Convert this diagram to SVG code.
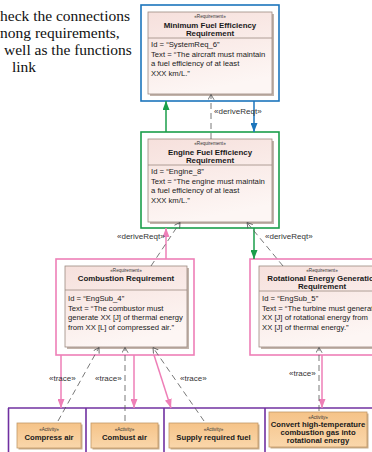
<svg xmlns="http://www.w3.org/2000/svg" width="372" height="452" viewBox="0 0 372 452">
  <style>
    .sans { font-family: "Liberation Sans", Arial, Helvetica, sans-serif; }
    .para { font-family: "Liberation Serif", "Times New Roman", serif; font-size: 15.5px; fill: #111; }
    .frame { fill: none; stroke-width: 1.6; }
    .req-shadow { fill: #c2b3aa; }
    .req-box { fill: url(#reqFill); stroke: #9c8a80; stroke-width: 0.8; }
    .divider { stroke: #9c8a80; stroke-width: 0.8; }
    .act-shadow { fill: #c9ad8c; }
    .act-box { fill: url(#actFill); stroke: #c29a68; stroke-width: 0.8; }
    .stereo { font-size: 4.6px; fill: #333; text-anchor: middle; }
    .title { font-size: 7.9px; font-weight: bold; fill: #1a1a1a; text-anchor: middle; }
    .body { font-size: 7.7px; fill: #1a1a1a; }
    .act-label { font-size: 7.7px; font-weight: bold; fill: #1a1a1a; text-anchor: middle; }
    .lbl { font-size: 8px; fill: #333; }
    .dep { fill: none; stroke: #555; stroke-width: 0.8; stroke-dasharray: 6 4; marker-end: url(#open); }
    .pink { stroke: #ee7fb7; stroke-width: 1.5; fill: none; marker-end: url(#triPink); }
    .swim { stroke: #7030a0; stroke-width: 1.6; fill: none; }
  </style>
  <defs>
    <linearGradient id="reqFill" x1="0" y1="0" x2="0.3" y2="1">
      <stop offset="0" stop-color="#f6e0dc"/>
      <stop offset="1" stop-color="#fdf6f4"/>
    </linearGradient>
    <linearGradient id="actFill" x1="0" y1="0" x2="0" y2="1">
      <stop offset="0" stop-color="#f5c388"/>
      <stop offset="1" stop-color="#fad7ab"/>
    </linearGradient>
    <marker id="triGreen" viewBox="0 0 9 7" refX="9" refY="3.5" markerWidth="9" markerHeight="7" markerUnits="userSpaceOnUse" orient="auto">
      <path d="M0,0 L9,3.5 L0,7 z" fill="#1a9e4a"/>
    </marker>
    <marker id="triBlue" viewBox="0 0 9 7" refX="9" refY="3.5" markerWidth="9" markerHeight="7" markerUnits="userSpaceOnUse" orient="auto">
      <path d="M0,0 L9,3.5 L0,7 z" fill="#1c75bc"/>
    </marker>
    <marker id="triPink" viewBox="0 0 9 7" refX="9" refY="3.5" markerWidth="9" markerHeight="7" markerUnits="userSpaceOnUse" orient="auto">
      <path d="M0,0 L9,3.5 L0,7 z" fill="#ee7fb7"/>
    </marker>
    <marker id="open" viewBox="0 0 6 7" refX="5.6" refY="3.5" markerWidth="6" markerHeight="7" markerUnits="userSpaceOnUse" orient="auto">
      <path d="M0.3,0.4 L5.6,3.5 L0.3,6.6" fill="none" stroke="#555" stroke-width="0.8"/>
    </marker>
  </defs>

  <rect width="372" height="452" fill="#ffffff"/>

  <!-- paragraph fragment on the left -->
  <g id="paragraph" class="para">
    <text x="0" y="21">heck the connections</text>
    <text x="0" y="38">nong requirements,</text>
    <text x="4" y="55">well as the functions</text>
    <text x="12" y="72">link</text>
  </g>

  <!-- activity partitions -->
  <g id="partitions" class="swim">
    <line x1="8" y1="408" x2="372" y2="408"/>
    <line x1="8.5" y1="408" x2="8.5" y2="452"/>
    <line x1="86" y1="408" x2="86" y2="452"/>
    <line x1="164" y1="408" x2="164" y2="452"/>
    <line x1="265" y1="408" x2="265" y2="452"/>
  </g>

  <g id="minFuelReq" class="sans">
    <rect class="frame" x="141" y="5" width="138" height="96" stroke="#1c75bc"/>
    <rect class="req-shadow" x="150" y="14" width="124" height="82"/>
    <rect class="req-box" x="148" y="12" width="124" height="82"/>
    <line class="divider" x1="148" y1="38" x2="272" y2="38"/>
    <text class="stereo" x="210" y="18">«Requirement»</text>
    <text class="title" x="210" y="28">Minimum Fuel Efficiency</text>
    <text class="title" x="210" y="35.5">Requirement</text>
    <text class="body" x="151" y="47">Id = “SystemReq_6”</text>
    <text class="body" x="151" y="56.5">Text = “The aircraft must maintain</text>
    <text class="body" x="151" y="66">a fuel efficiency of at least</text>
    <text class="body" x="151" y="75.5">XXX km/L.”</text>
  </g>

  <g id="engineFuelReq" class="sans">
    <rect class="frame" x="141" y="132" width="138" height="96" stroke="#1a9e4a"/>
    <rect class="req-shadow" x="150" y="141" width="124" height="83"/>
    <rect class="req-box" x="148" y="139" width="124" height="83"/>
    <line class="divider" x1="148" y1="165" x2="272" y2="165"/>
    <text class="stereo" x="210" y="145">«Requirement»</text>
    <text class="title" x="210" y="155">Engine Fuel Efficiency</text>
    <text class="title" x="210" y="162.5">Requirement</text>
    <text class="body" x="151" y="174">Id = “Engine_8”</text>
    <text class="body" x="151" y="183.5">Text = “The engine must maintain</text>
    <text class="body" x="151" y="193">a fuel efficiency of at least</text>
    <text class="body" x="151" y="202.5">XXX km/L.”</text>
  </g>

  <g id="combustionReq" class="sans">
    <rect class="frame" x="56" y="259" width="138" height="96" stroke="#ee7fb7"/>
    <rect class="req-shadow" x="67" y="268" width="122" height="81"/>
    <rect class="req-box" x="65" y="266" width="122" height="81"/>
    <line class="divider" x1="65" y1="290" x2="187" y2="290"/>
    <text class="stereo" x="126" y="272">«Requirement»</text>
    <text class="title" x="126" y="280.5">Combustion Requirement</text>
    <text class="body" x="68" y="301">Id = “EngSub_4”</text>
    <text class="body" x="68" y="310.5">Text = “The combustor must</text>
    <text class="body" x="68" y="320">generate XX [J] of thermal energy</text>
    <text class="body" x="68" y="329.5">from XX [L] of compressed air.”</text>
  </g>

  <g id="rotationalReq" class="sans">
    <rect class="frame" x="250" y="259" width="140" height="96" stroke="#ee7fb7"/>
    <rect class="req-shadow" x="261" y="268" width="126" height="81"/>
    <rect class="req-box" x="259" y="266" width="126" height="81"/>
    <line class="divider" x1="259" y1="291" x2="385" y2="291"/>
    <text class="stereo" x="322" y="272">«Requirement»</text>
    <text class="title" x="323" y="281">Rotational Energy Generation</text>
    <text class="title" x="322" y="288.5">Requirement</text>
    <text class="body" x="262" y="301">Id = “EngSub_5”</text>
    <text class="body" x="262" y="310.5">Text = “The turbine must generate</text>
    <text class="body" x="262" y="320">XX [J] of rotational energy from</text>
    <text class="body" x="262" y="329.5">XX [J] of thermal energy.”</text>
  </g>

  <g id="compressAir" class="sans">
    <rect class="act-shadow" x="18.5" y="424.5" width="64" height="25"/>
    <rect class="act-box" x="17" y="423" width="64" height="25"/>
    <text class="stereo" x="49" y="430.5">«Activity»</text>
    <text class="act-label" x="49" y="440">Compress air</text>
  </g>

  <g id="combustAir" class="sans">
    <rect class="act-shadow" x="92.5" y="424.5" width="67" height="25"/>
    <rect class="act-box" x="91" y="423" width="67" height="25"/>
    <text class="stereo" x="124.5" y="430.5">«Activity»</text>
    <text class="act-label" x="124.5" y="440">Combust air</text>
  </g>

  <g id="supplyFuel" class="sans">
    <rect class="act-shadow" x="170.5" y="424.5" width="89" height="25"/>
    <rect class="act-box" x="169" y="423" width="89" height="25"/>
    <text class="stereo" x="213.5" y="430.5">«Activity»</text>
    <text class="act-label" x="213.5" y="440">Supply required fuel</text>
  </g>

  <g id="convertEnergy" class="sans">
    <rect class="act-shadow" x="270.5" y="413.5" width="98" height="35"/>
    <rect class="act-box" x="269" y="412" width="98" height="35"/>
    <text class="stereo" x="318" y="419">«Activity»</text>
    <text class="act-label" x="318" y="427">Convert high-temperature</text>
    <text class="act-label" x="318" y="435">combustion gas into</text>
    <text class="act-label" x="318" y="443">rotational energy</text>
  </g>

  <g id="connectors" class="sans">
    <!-- upper level -->
    <line x1="166" y1="132" x2="166" y2="101" stroke="#1a9e4a" stroke-width="1.5" marker-end="url(#triGreen)"/>
    <line x1="254" y1="101" x2="254" y2="132" stroke="#1c75bc" stroke-width="1.5" marker-end="url(#triBlue)"/>
    <line class="dep" x1="211" y1="139" x2="211" y2="94.5"/>
    <text class="lbl" x="214" y="114">«deriveReqt»</text>

    <!-- middle level -->
    <line x1="166" y1="259" x2="166" y2="228" stroke="#ee7fb7" stroke-width="1.5" marker-end="url(#triPink)"/>
    <line class="dep" x1="151" y1="266" x2="180" y2="222.5"/>
    <text class="lbl" x="117" y="239">«deriveReqt»</text>
    <line x1="254" y1="228" x2="254" y2="259" stroke="#1a9e4a" stroke-width="1.5" marker-end="url(#triGreen)"/>
    <line class="dep" x1="283" y1="266" x2="247" y2="222.5"/>
    <text class="lbl" x="265" y="239">«deriveReqt»</text>

    <!-- traces to activities -->
    <line class="pink" x1="61" y1="355" x2="61" y2="408"/>
    <line class="pink" x1="134" y1="355" x2="134" y2="408"/>
    <line class="pink" x1="154" y1="355" x2="171" y2="408"/>
    <line class="pink" x1="322" y1="355" x2="322" y2="408"/>
    <line class="dep" x1="58" y1="421" x2="99" y2="347.5"/>
    <line class="dep" x1="125" y1="421" x2="125" y2="347.5"/>
    <line class="dep" x1="204" y1="421" x2="153" y2="347.5"/>
    <line class="dep" x1="319" y1="411" x2="319" y2="347.5"/>
    <text class="lbl" x="49" y="381">«trace»</text>
    <text class="lbl" x="95" y="381">«trace»</text>
    <text class="lbl" x="180" y="381">«trace»</text>
    <text class="lbl" x="289" y="376">«trace»</text>
  </g>
</svg>
